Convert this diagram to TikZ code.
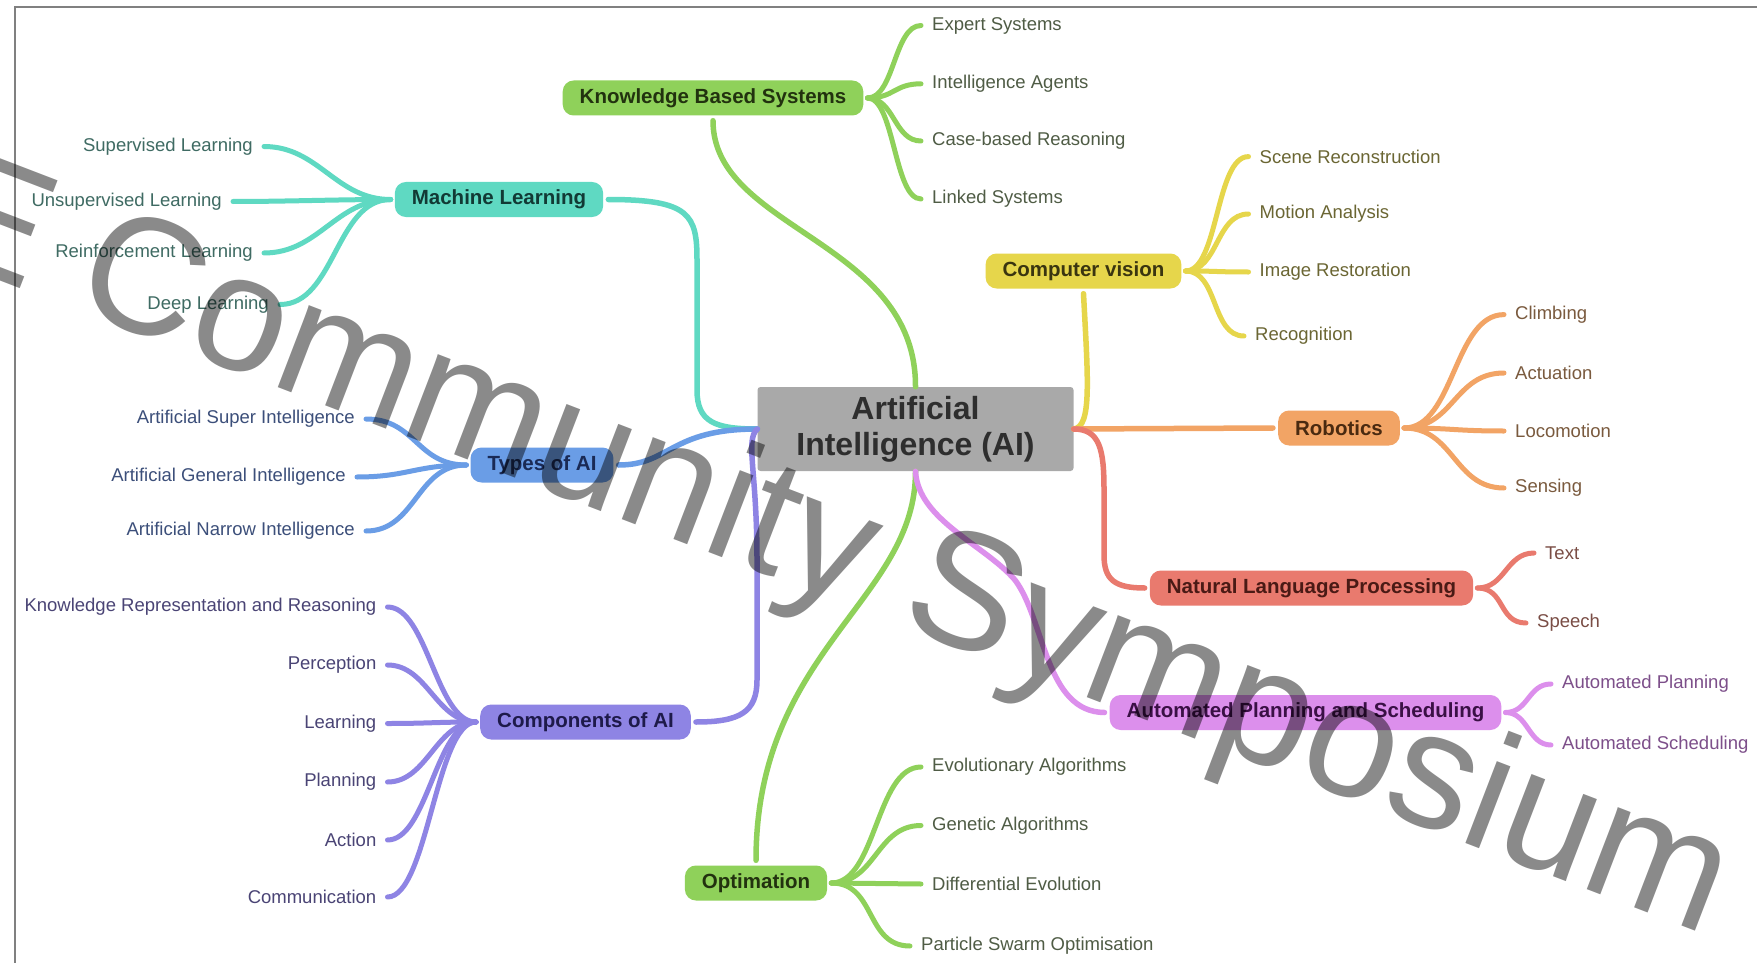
\documentclass[tikz,border=0pt]{standalone}
\usepackage{fontspec}
\setmainfont{Liberation Sans}
\usetikzlibrary{positioning}

\definecolor{aigray}{HTML}{A9A9A9}
\definecolor{aitext}{HTML}{2E2E2E}
\definecolor{kbsgreen}{HTML}{8FD15A}
\definecolor{kbsdark}{HTML}{22320F}
\definecolor{kbsleaf}{HTML}{4F5C45}
\definecolor{mlteal}{HTML}{5FD9C2}
\definecolor{mldark}{HTML}{123A35}
\definecolor{mlleaf}{HTML}{3F6B63}
\definecolor{typblue}{HTML}{6A9DE6}
\definecolor{typdark}{HTML}{1A2A55}
\definecolor{typleaf}{HTML}{3C4F7A}
\definecolor{cmppurple}{HTML}{8E84E4}
\definecolor{cmpdark}{HTML}{1E1A4A}
\definecolor{cmpleaf}{HTML}{4A4475}
\definecolor{cvyellow}{HTML}{E6D64B}
\definecolor{cvdark}{HTML}{3A3510}
\definecolor{cvleaf}{HTML}{6B6633}
\definecolor{roborange}{HTML}{F2A465}
\definecolor{robdark}{HTML}{4A2A10}
\definecolor{robleaf}{HTML}{7A5A3E}
\definecolor{nlpred}{HTML}{E97A6E}
\definecolor{nlpdark}{HTML}{4A1A15}
\definecolor{nlpleaf}{HTML}{7A4D45}
\definecolor{apsviolet}{HTML}{DC8FEC}
\definecolor{apsdark}{HTML}{3A1045}
\definecolor{apsleaf}{HTML}{7D4F8A}

\begin{document}
\begin{tikzpicture}[x=1pt, y=-1pt, line cap=round]
    \tikzstyle{topic}=[rounded corners=11pt, minimum height=35pt, inner xsep=17pt, font=\fontsize{20.5}{22}\selectfont\bfseries]
    \tikzstyle{leaf}=[inner sep=2pt, font=\fontsize{18.5}{20}\selectfont]
    \tikzstyle{twig}=[line width=5pt]
    \tikzstyle{limb}=[line width=5.5pt]

    \path[use as bounding box, clip] (0,0) rectangle (1757,963);
    \fill[white] (0,0) rectangle (1757,963);
    \draw[gray, line width=1.5pt] (15,963) -- (15,7) -- (1757,7);

    \node[fill=aigray, text=aitext, rounded corners=3pt, minimum width=316pt, minimum height=84pt, align=center, font=\fontsize{32}{36}\selectfont\bfseries] (AI) at (915.5,429) {Artificial\\Intelligence (AI)};

    \node[topic, fill=kbsgreen, text=kbsdark] (KBS) at (713,98) {Knowledge Based Systems};
    \node[topic, fill=mlteal, text=mldark] (ML) at (499,199.5) {Machine Learning};
    \node[topic, fill=typblue, text=typdark] (TYP) at (542,465) {Types of AI};
    \node[topic, fill=cmppurple, text=cmpdark] (CMP) at (585.5,722) {Components of AI};
    \node[topic, fill=kbsgreen, text=kbsdark] (OPT) at (756,883) {Optimation};
    \node[topic, fill=cvyellow, text=cvdark] (CV) at (1083.5,271) {Computer vision};
    \node[topic, fill=roborange, text=robdark] (ROB) at (1339,428) {Robotics};
    \node[topic, fill=nlpred, text=nlpdark] (NLP) at (1311.5,588) {Natural Language Processing};
    \node[topic, fill=apsviolet, text=apsdark] (APS) at (1305.5,712.5) {Automated Planning and Scheduling};

    \draw[limb, kbsgreen] (AI.north) .. controls (916,240) and (713,230) .. ([yshift=-5pt]KBS.south);
    \draw[limb, mlteal] ([xshift=5pt]ML.east) .. controls (690,199.5) and (697,215) .. (697,260) -- (697,390) .. controls (697,422) and (715,429) .. (AI.west);
    \draw[limb, typblue] (AI.west) .. controls (670,429) and (670,465) .. ([xshift=5pt]TYP.east);
    \draw[limb, cmppurple] (AI.west) .. controls (745,440) and (757,470) .. (757,560) -- (757,680) .. controls (757,712) and (740,722) .. ([xshift=5pt]CMP.east);
    \draw[limb, kbsgreen] (AI.south) .. controls (916,600) and (756,650) .. ([yshift=5pt]OPT.north);
    \draw[limb, cvyellow] (AI.east) .. controls (1092,427) and (1088,380) .. ([yshift=-5pt]CV.south);
    \draw[limb, roborange] (AI.east) -- ([xshift=-5pt]ROB.west);
    \draw[limb, nlpred] (AI.east) .. controls (1100,429) and (1104,450) .. (1104,490) -- (1104,555) .. controls (1104,580) and (1115,588) .. ([xshift=-5pt]NLP.west);
    \draw[limb, apsviolet] (AI.south) .. controls (918,520) and (985,545) .. (1015,580) .. controls (1045,620) and (1045,712) .. ([xshift=-5pt]APS.west);

    \foreach \name/\y/\txt in {1/25.5/Expert Systems, 2/83.8/Intelligence Agents, 3/141/Case-based Reasoning, 4/199/Linked Systems}
        \node[leaf, anchor=west, text=kbsleaf] (KBS-\name) at (930,\y) {\txt};
    \foreach \name/\x/\y/\txt in {1/255/146.5/Supervised Learning, 2/224/201.5/Unsupervised Learning, 3/255/253/Reinforcement Learning, 4/271/304.5/Deep Learning}
        \node[leaf, anchor=east, text=mlleaf] (ML-\name) at (\x,\y) {\txt};
    \foreach \name/\x/\y/\txt in {1/357/419/Artificial Super Intelligence, 2/348/477/Artificial General Intelligence, 3/357/531/Artificial Narrow Intelligence}
        \node[leaf, anchor=east, text=typleaf] (TYP-\name) at (\x,\y) {\txt};
    \foreach \name/\y/\txt in {1/607/Knowledge Representation and Reasoning, 2/665/Perception, 3/723.5/Learning, 4/782/Planning, 5/840/Action, 6/897/Communication}
        \node[leaf, anchor=east, text=cmpleaf] (CMP-\name) at (378.5,\y) {\txt};
    \foreach \name/\x/\y/\txt in {1/930/767/Evolutionary Algorithms, 2/930/825.5/Genetic Algorithms, 3/930/884/Differential Evolution, 4/919/946/Particle Swarm Optimisation}
        \node[leaf, anchor=west, text=kbsleaf] (OPT-\name) at (\x,\y) {\txt};
    \foreach \name/\x/\y/\txt in {1/1257.5/156.6/Scene Reconstruction, 2/1257.5/214/Motion Analysis, 3/1257.5/272/Image Restoration, 4/1253/336/Recognition}
        \node[leaf, anchor=west, text=cvleaf] (CV-\name) at (\x,\y) {\txt};
    \foreach \name/\y/\txt in {1/314.6/Climbing, 2/373/Actuation, 3/431/Locomotion, 4/488/Sensing}
        \node[leaf, anchor=west, text=robleaf] (ROB-\name) at (1513,\y) {\txt};
    \foreach \name/\x/\y/\txt in {1/1543/553/Text, 2/1535/623/Speech}
        \node[leaf, anchor=west, text=nlpleaf] (NLP-\name) at (\x,\y) {\txt};
    \foreach \name/\y/\txt in {1/684/Automated Planning, 2/745/Automated Scheduling}
        \node[leaf, anchor=west, text=apsleaf] (APS-\name) at (1560,\y) {\txt};

    \foreach \name in {1,...,4}
        \draw[twig, kbsgreen] ([xshift=4pt]KBS.east) .. controls +(27,0) and +(-27,0) .. ([xshift=-9pt]KBS-\name.west);
    \foreach \name in {1,...,4}
        \draw[twig, mlteal] ([xshift=-4pt]ML.west) .. controls +(-55,0) and +(55,0) .. ([xshift=9pt]ML-\name.east);
    \foreach \name in {1,...,3}
        \draw[twig, typblue] ([xshift=-4pt]TYP.west) .. controls +(-50,0) and +(50,0) .. ([xshift=9pt]TYP-\name.east);
    \foreach \name in {1,...,6}
        \draw[twig, cmppurple] ([xshift=-4pt]CMP.west) .. controls +(-40,0) and +(40,0) .. ([xshift=9pt]CMP-\name.east);
    \foreach \name in {1,...,4}
        \draw[twig, kbsgreen] ([xshift=4pt]OPT.east) .. controls +(45,0) and +(-45,0) .. ([xshift=-9pt]OPT-\name.west);
    \foreach \name in {1,...,4}
        \draw[twig, cvyellow] ([xshift=4pt]CV.east) .. controls +(33,0) and +(-33,0) .. ([xshift=-9pt]CV-\name.west);
    \foreach \name in {1,...,4}
        \draw[twig, roborange] ([xshift=4pt]ROB.east) .. controls +(50,0) and +(-50,0) .. ([xshift=-9pt]ROB-\name.west);
    \foreach \name in {1,2}
        \draw[twig, nlpred] ([xshift=4pt]NLP.east) .. controls +(28,0) and +(-28,0) .. ([xshift=-9pt]NLP-\name.west);
    \foreach \name in {1,2}
        \draw[twig, apsviolet] ([xshift=4pt]APS.east) .. controls +(23,0) and +(-23,0) .. ([xshift=-9pt]APS-\name.west);

    \node[anchor=base west, rotate=-21, inner sep=0pt, text=black, text opacity=0.46, font=\fontsize{166}{168}\selectfont] (mark) at (-77,251) {E Community Symposium};
\end{tikzpicture}
\end{document}
